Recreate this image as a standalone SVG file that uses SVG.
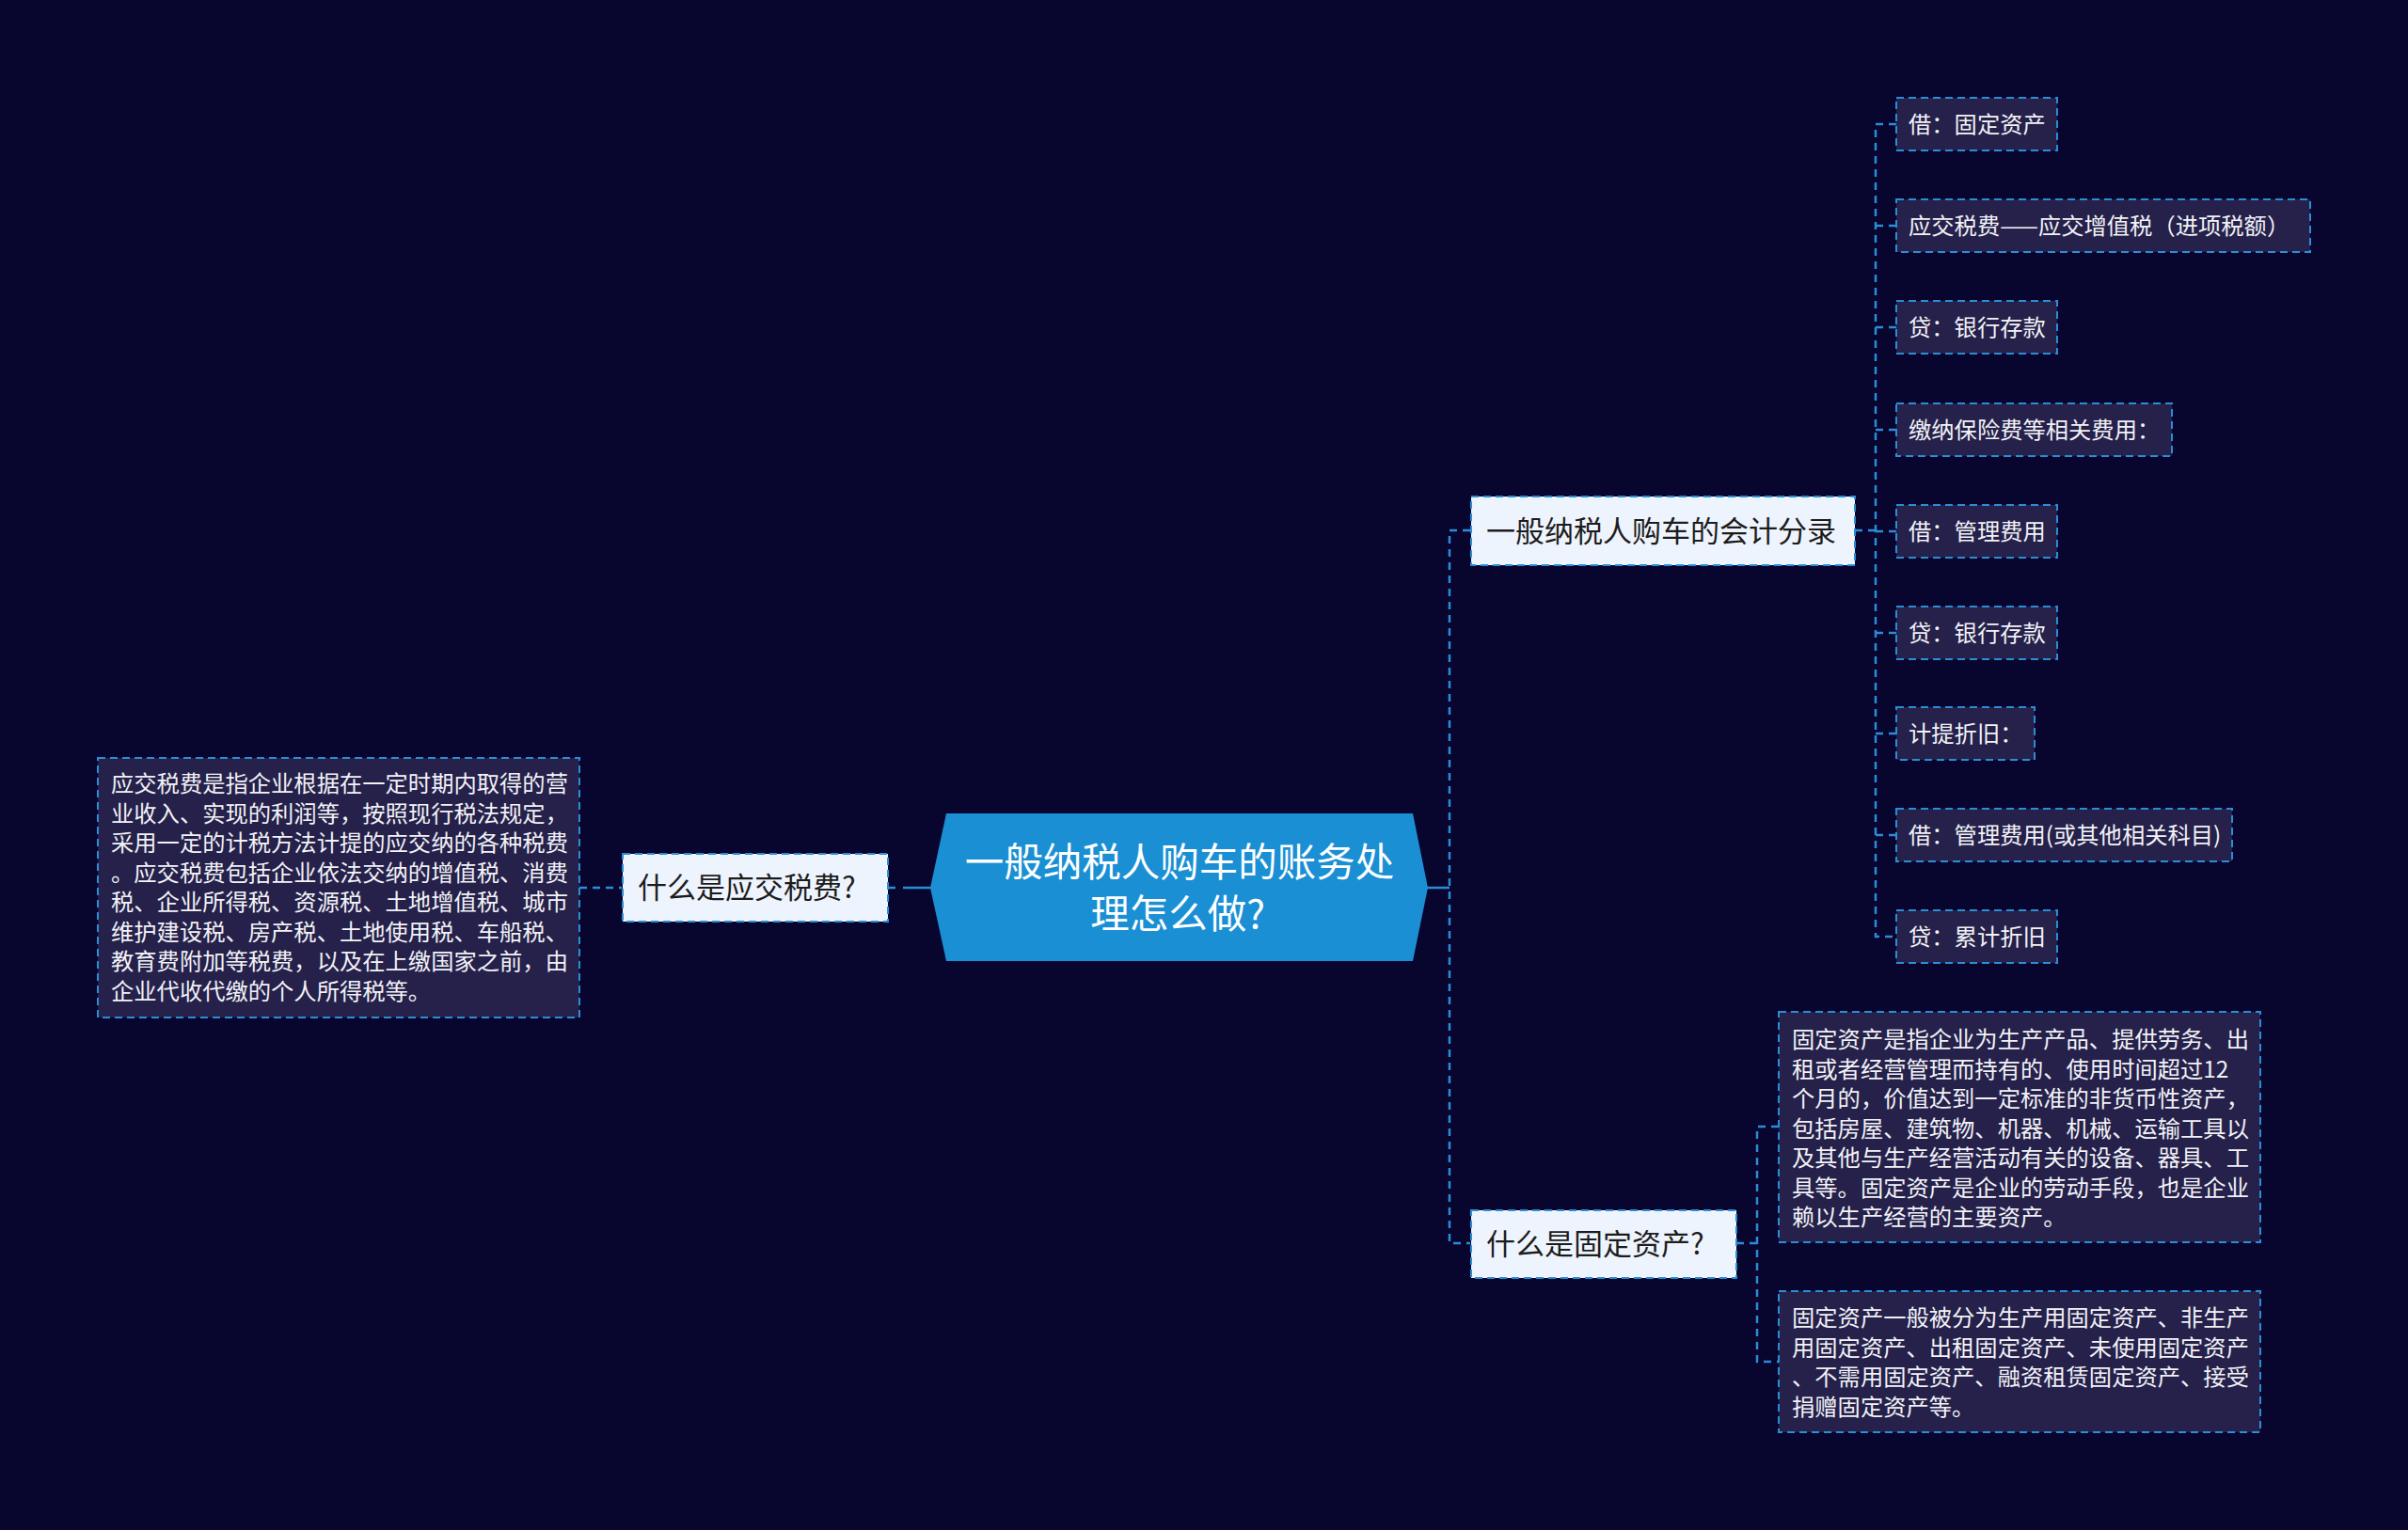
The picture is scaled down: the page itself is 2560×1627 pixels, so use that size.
<svg xmlns="http://www.w3.org/2000/svg" width="2560" height="1627" viewBox="0 0 2560 1627">
<style>
.bg{fill:#08052f}
.conn{fill:none;stroke:#2a8ed6;stroke-width:2.5;stroke-dasharray:8 6}
.solid{fill:none;stroke:#2a8ed6;stroke-width:2.5}
.light{fill:#eef4fd;stroke:#2a8ed6;stroke-width:2;stroke-dasharray:8 5}
.dark{fill:#25214a;stroke:#2a8ed6;stroke-width:2;stroke-dasharray:8 5}
.root{fill:#1a8fd3}
text{font-family:"Noto Sans CJK SC","Noto Sans",sans-serif}
.tr{fill:#ffffff;font-size:41.5px;text-anchor:middle}
.tl{fill:#1c1c1c;font-size:31px}
.td{fill:#f2f2f7;font-size:24.3px}
</style>
<rect class="bg" x="0" y="0" width="2560" height="1627"/>

<g id="connectors">
  <line class="solid" x1="960" y1="944" x2="990" y2="944"/>
  <line class="conn" x1="944" y1="944" x2="958" y2="944"/>
  <line class="conn" x1="616" y1="944" x2="661" y2="944"/>
  <line class="solid" x1="1517" y1="944" x2="1541" y2="944"/>
  <path class="conn" d="M1563 564 H1541 V1322 H1563"/>
  <path class="conn" d="M1972 564 H1994"/>
  <path class="conn" d="M2016 132 H1994 V996 H2016"/>
  <path class="conn" d="M1994 240 H2016 M1994 348 H2016 M1994 457 H2016 M1994 565 H2016 M1994 673 H2016 M1994 780 H2016 M1994 888 H2016"/>
  <path class="conn" d="M1846 1322 H1868"/>
  <path class="conn" d="M1891 1198 H1868 V1448 H1891"/>
</g>

<g id="root">
  <polygon class="root" points="989,944 1006,865 1502,865 1518,944 1502,1022 1006,1022"/>
  <text class="tr" x="1254" y="932">一般纳税人购车的账务处</text>
  <text class="tr" x="1252" y="987">理怎么做?</text>
</g>

<g id="n-yingjiao">
  <rect class="light" x="662" y="908" width="282" height="72"/>
  <text class="tl" x="678" y="955">什么是应交税费?</text>
</g>

<g id="n-yingjiao-desc">
  <rect class="dark" x="104" y="806" width="512" height="276"/>
  <text class="td">
    <tspan x="118" y="842">应交税费是指企业根据在一定时期内取得的营</tspan>
    <tspan x="118" y="873.5">业收入、实现的利润等，按照现行税法规定，</tspan>
    <tspan x="118" y="905">采用一定的计税方法计提的应交纳的各种税费</tspan>
    <tspan x="118" y="936.5">。应交税费包括企业依法交纳的增值税、消费</tspan>
    <tspan x="118" y="968">税、企业所得税、资源税、土地增值税、城市</tspan>
    <tspan x="118" y="999.5">维护建设税、房产税、土地使用税、车船税、</tspan>
    <tspan x="118" y="1031">教育费附加等税费，以及在上缴国家之前，由</tspan>
    <tspan x="118" y="1062.5">企业代收代缴的个人所得税等。</tspan>
  </text>
</g>

<g id="n-kuaiji">
  <rect class="light" x="1564" y="528" width="408" height="73"/>
  <text class="tl" x="1580" y="576">一般纳税人购车的会计分录</text>
</g>

<g id="c1">
  <rect class="dark" x="2016" y="104" width="171" height="56"/>
  <text class="td" x="2029" y="141">借：固定资产</text>
</g>
<g id="c2">
  <rect class="dark" x="2016" y="212" width="440" height="56"/>
  <text class="td" x="2029" y="249">应交税费——应交增值税（进项税额）</text>
</g>
<g id="c3">
  <rect class="dark" x="2016" y="320" width="171" height="56"/>
  <text class="td" x="2029" y="357">贷：银行存款</text>
</g>
<g id="c4">
  <rect class="dark" x="2016" y="429" width="293" height="56"/>
  <text class="td" x="2029" y="466">缴纳保险费等相关费用：</text>
</g>
<g id="c5">
  <rect class="dark" x="2016" y="537" width="171" height="56"/>
  <text class="td" x="2029" y="574">借：管理费用</text>
</g>
<g id="c6">
  <rect class="dark" x="2016" y="645" width="171" height="56"/>
  <text class="td" x="2029" y="682">贷：银行存款</text>
</g>
<g id="c7">
  <rect class="dark" x="2016" y="752" width="147" height="56"/>
  <text class="td" x="2029" y="789">计提折旧：</text>
</g>
<g id="c8">
  <rect class="dark" x="2016" y="860" width="357" height="56"/>
  <text class="td" x="2029" y="897">借：管理费用(或其他相关科目)</text>
</g>
<g id="c9">
  <rect class="dark" x="2016" y="968" width="171" height="56"/>
  <text class="td" x="2029" y="1005">贷：累计折旧</text>
</g>

<g id="n-guding">
  <rect class="light" x="1564" y="1287" width="282" height="72"/>
  <text class="tl" x="1580" y="1334">什么是固定资产?</text>
</g>

<g id="n-guding-desc1">
  <rect class="dark" x="1891" y="1076" width="512" height="245"/>
  <text class="td">
    <tspan x="1905" y="1114">固定资产是指企业为生产产品、提供劳务、出</tspan>
    <tspan x="1905" y="1145.5">租或者经营管理而持有的、使用时间超过12</tspan>
    <tspan x="1905" y="1177">个月的，价值达到一定标准的非货币性资产，</tspan>
    <tspan x="1905" y="1208.5">包括房屋、建筑物、机器、机械、运输工具以</tspan>
    <tspan x="1905" y="1240">及其他与生产经营活动有关的设备、器具、工</tspan>
    <tspan x="1905" y="1271.5">具等。固定资产是企业的劳动手段，也是企业</tspan>
    <tspan x="1905" y="1303">赖以生产经营的主要资产。</tspan>
  </text>
</g>

<g id="n-guding-desc2">
  <rect class="dark" x="1891" y="1373" width="512" height="150"/>
  <text class="td">
    <tspan x="1905" y="1410">固定资产一般被分为生产用固定资产、非生产</tspan>
    <tspan x="1905" y="1441.5">用固定资产、出租固定资产、未使用固定资产</tspan>
    <tspan x="1905" y="1473">、不需用固定资产、融资租赁固定资产、接受</tspan>
    <tspan x="1905" y="1504.5">捐赠固定资产等。</tspan>
  </text>
</g>
</svg>
